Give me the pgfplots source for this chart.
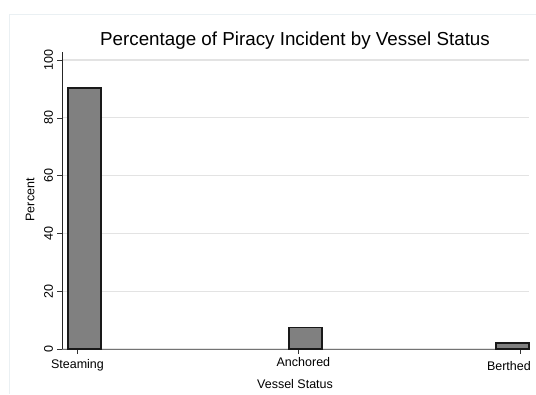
\documentclass[border=0pt]{standalone}
\usepackage{pgfplots}
\pgfplotsset{compat=1.18}
\usepackage{fontspec}
\setmainfont{Liberation Sans}
\definecolor{barfill}{HTML}{808080}
\definecolor{gridc}{HTML}{E3E3E3}
\definecolor{framec}{HTML}{EAF0F3}
\newcommand{\lblfont}{\fontsize{12.5}{14}\selectfont}
\begin{document}
\begin{tikzpicture}[x=1pt,y=1pt]
\path[use as bounding box] (0,0) rectangle (536,394);
% outer graph region border
\draw[framec, line width=0.8pt] (9.3,0) -- (9.3,379.3) -- (536,379.3);
% title
\node[anchor=base, font=\fontsize{18.8}{22}\selectfont] at (295,348) {Percentage of Piracy Incident by Vessel Status};
\begin{axis}[
  at={(62pt,45pt)}, anchor=south west,
  scale only axis, width=467pt, height=297pt,
  xmin=-0.07, xmax=2.041, ymin=0, ymax=102.8,
  axis lines*=left,
  x axis line style={draw=black!55, line width=0.9pt},
  y axis line style={draw=black!85, line width=0.7pt},
  xtick={0,1,2},
  xticklabels={Steaming,
    \raisebox{2pt}[\height][\depth]{\hspace*{9.4pt}Anchored},
    \raisebox{-2pt}[\height][\depth]{Berthed\hspace*{22pt}}},
  ytick={0,20,...,100},
  ymajorgrids,
  grid style={gridc, line width=1.2pt},
  tick align=outside, major tick length=4.5pt,
  tick style={black!80, line width=0.6pt},
  /pgf/number format/assume math mode=true,
  yticklabel style={rotate=90, anchor=south, font=\lblfont, yshift=1pt},
  xticklabel style={anchor=north, font=\lblfont, yshift=-2.5pt},
  ylabel={Percent}, xlabel={Vessel Status},
  ylabel style={font=\lblfont, rotate=0, anchor=center, at={(axis description cs:-0.0685,0.502)}},
  xlabel style={font=\lblfont, anchor=center, at={(axis description cs:0.499,-0.118)}},
  clip=false,
]
\addplot[ybar, fill=barfill, draw=black!90, line width=1.4pt, bar width=0.149, bar shift=0.031]
  coordinates {(0,90.4) (1,7.5)};
\addplot[ybar, fill=barfill, draw=black!90, line width=1.4pt, bar width=0.149, bar shift=-0.034]
  coordinates {(2,2.1)};
\end{axis}
\end{tikzpicture}
\end{document}
